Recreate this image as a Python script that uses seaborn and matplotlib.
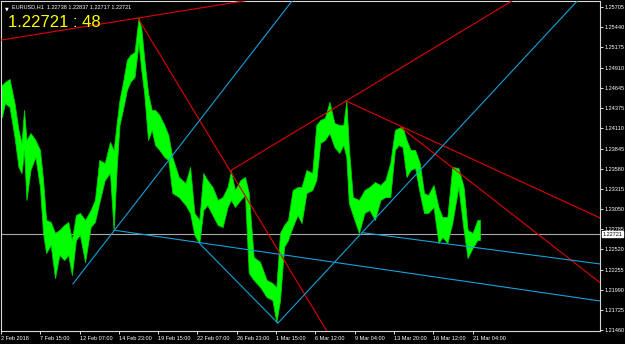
import numpy as np
import pandas as pd
import matplotlib
matplotlib.use("Agg")
import matplotlib.pyplot as plt
import matplotlib.transforms as mtransforms
from matplotlib import font_manager
import seaborn as sns

# ---------------- data ----------------
symbol = "EURUSD,H1"
ohlc_last = ["1.22738", "1.22837", "1.22717", "1.22721"]
last_price = 1.22721
countdown = "48"

# price path: start bar of each block of H1 bars, with block high / low
seg_start = [0, 3, 10, 18, 26, 31, 36, 39, 44, 52, 60, 67, 70, 77, 85, 91, 99, 107, 112, 119,
             125, 132, 142, 150, 156, 164, 174, 181, 186, 191, 195, 202, 208, 213, 222, 226, 231, 236, 243, 248,
             254, 262, 270, 275, 283, 296, 305, 311, 319, 327, 332, 340, 349, 357, 365, 373, 376, 386, 394, 401,
             406, 417, 427, 438, 446, 451, 458, 464, 471, 479, 487, 492, 503, 511, 516, 524, 531, 539, 547, 555,
             560, 565, 568, 578, 588, 596, 604, 614, 622, 630, 638, 645, 650, 658, 663, 671, 678, 686, 692, 699,
             710, 715, 723, 731, 739, 751, 756, 764, 772]
seg_end = 780
seg_high = [1.24680, 1.24719, 1.24759, 1.24443, 1.24089, 1.23918, 1.24351, 1.23957, 1.24049, 1.23957,
            1.23826, 1.23431, 1.22906, 1.22880, 1.22735, 1.22774, 1.22840, 1.22880, 1.22643, 1.22971,
            1.22998, 1.22906, 1.23037, 1.23169, 1.23694, 1.23655, 1.23931, 1.23826, 1.24181, 1.24483,
            1.24706, 1.25009, 1.25074, 1.25114, 1.25560, 1.25429, 1.25009, 1.24575, 1.24351, 1.24351,
            1.24286, 1.24154, 1.24023, 1.23734, 1.23471, 1.23392, 1.23602, 1.22998, 1.22906, 1.23523,
            1.23431, 1.23339, 1.23169, 1.23208, 1.23339, 1.23550, 1.23300, 1.23431, 1.23471, 1.23261,
            1.22420, 1.22354, 1.22117, 1.22078, 1.22025, 1.22735, 1.22840, 1.22906, 1.23300, 1.23339,
            1.23339, 1.23563, 1.23523, 1.24154, 1.24220, 1.24246, 1.24457, 1.24181, 1.24154, 1.24154,
            1.24470, 1.23865, 1.23208, 1.23169, 1.23300, 1.23339, 1.23405, 1.23366, 1.23431, 1.23655,
            1.24089, 1.24115, 1.24128, 1.23957, 1.23826, 1.23826, 1.23655, 1.23261, 1.23234, 1.23366,
            1.23077, 1.22945, 1.22945, 1.23602, 1.23589, 1.23339, 1.22774, 1.22735, 1.22906]
seg_low = [1.24259, 1.24443, 1.24391, 1.23997, 1.23602, 1.23523, 1.23826, 1.23169, 1.23563, 1.23734,
           1.23339, 1.22735, 1.22472, 1.22577, 1.22144, 1.22446, 1.22380, 1.22446, 1.22183, 1.22643,
           1.22709, 1.22354, 1.22814, 1.22880, 1.23129, 1.23431, 1.23523, 1.22774, 1.23602, 1.24154,
           1.24351, 1.24614, 1.24719, 1.24785, 1.25232, 1.24877, 1.24549, 1.23957, 1.24089, 1.23891,
           1.23826, 1.23734, 1.23694, 1.23261, 1.23208, 1.23103, 1.22998, 1.22709, 1.22603, 1.23037,
           1.23103, 1.22971, 1.22840, 1.22814, 1.23077, 1.23169, 1.23077, 1.23169, 1.23234, 1.22209,
           1.22117, 1.22025, 1.21894, 1.21854, 1.21565, 1.21854, 1.22551, 1.22643, 1.22814, 1.22971,
           1.22866, 1.23261, 1.23300, 1.23431, 1.23918, 1.23957, 1.24049, 1.23865, 1.23786, 1.23891,
           1.23734, 1.23129, 1.22971, 1.22735, 1.22998, 1.23037, 1.22906, 1.23169, 1.23208, 1.23208,
           1.23826, 1.23891, 1.23865, 1.23471, 1.23563, 1.23589, 1.23261, 1.22998, 1.22998, 1.23077,
           1.22603, 1.22682, 1.22603, 1.22866, 1.23339, 1.22774, 1.22406, 1.22538, 1.22643]

# trend lines: two anchor points (bar, price); ray = extend to the right
line_x1 = [0, 223, 373, 562, 650, 117, 186, 323, 451, 588]
line_p1 = [1.2527, 1.2556, 1.2355, 1.2447, 1.2413, 1.22065, 1.2277, 1.2260, 1.2155, 1.2274]
line_x2 = [223, 487, 562, 976, 976, 474, 976, 451, 938, 976]
line_p2 = [1.2556, 1.2203, 1.2447, 1.22932, 1.2208, 1.25784, 1.21841, 1.2155, 1.2578, 1.22328]
line_ray = [True, True, True, True, True, True, True, False, True, True]
line_kind = ["red", "red", "red", "red", "red", "cyan", "cyan", "cyan", "cyan", "cyan"]

price_ticks = [1.25705, 1.25440, 1.25175, 1.24910, 1.24645, 1.24375, 1.24110, 1.23845, 1.23580,
               1.23315, 1.23050, 1.22785, 1.22520, 1.22255, 1.21990, 1.21725, 1.21460]
time_tick_labels = ["2 Feb 2018", "7 Feb 15:00", "12 Feb 07:00", "14 Feb 23:00", "19 Feb 15:00",
                    "22 Feb 07:00", "26 Feb 23:00", "1 Mar 15:00", "6 Mar 12:00", "9 Mar 04:00",
                    "13 Mar 20:00", "16 Mar 12:00", "21 Mar 04:00"]
bars_per_label = 64

# ---------------- style ----------------
sns.set_theme(style="dark")
names = {f.name for f in font_manager.fontManager.ttflist}
small_font = "Liberation Sans Narrow" if "Liberation Sans Narrow" in names else "Liberation Sans"
small_size = 4.8 if small_font == "Liberation Sans Narrow" else 4.0
plt.rcParams["font.family"] = ["Liberation Sans", "DejaVu Sans"]

fig = plt.figure(figsize=(6.25, 3.44), dpi=100, facecolor="black")
W, H = 625, 344
ax = fig.add_axes([1 / W, 13 / H, 599 / W, 330 / H])
ax.set_facecolor("black")
for s in ax.spines.values():
    s.set_color("#d8d8d8")
    s.set_linewidth(0.8)

xmin, xmax = 0, 975.6
ymin, ymax = 1.21447, 1.25784

# current price line
ax.axhline(last_price, color="#a8a8a8", lw=0.8, zorder=1)

# price bars: band through the high/low of each block, drawn at the block centres
starts = np.array(seg_start, dtype=float)
ends = np.append(starts[1:], seg_end)
mids = np.concatenate([[starts[0]], (starts + ends) / 2, [ends[-1]]])
hi = np.concatenate([[seg_high[0]], seg_high, [seg_high[-1]]])
lo = np.concatenate([[seg_low[0]], seg_low, [seg_low[-1]]])
ax.fill_between(mids, lo, hi, color="#00ff00", lw=0.6, edgecolor="#00d000", zorder=2)

# trend lines
colors = {"red": "#e00000", "cyan": "#18a0d8"}
for i in range(len(line_x1)):
    x1, p1, x2, p2 = line_x1[i], line_p1[i], line_x2[i], line_p2[i]
    if line_ray[i]:
        slope = (p2 - p1) / (x2 - x1)
        xe = 1400.0
        pe = p1 + slope * (xe - x1)
    else:
        xe, pe = x2, p2
    df = pd.DataFrame({"bar": [x1, xe], "price": [p1, pe]})
    sns.lineplot(data=df, x="bar", y="price", ax=ax, color=colors[line_kind[i]],
                 lw=0.8, zorder=3, legend=False, estimator=None, sort=False)
ax.set_xlim(xmin, xmax)
ax.set_ylim(ymin, ymax)
ax.set_xlabel("")
ax.set_ylabel("")

# axes ticks
ax.yaxis.tick_right()
ax.set_yticks(price_ticks)
ax.set_yticklabels([f"{p:.5f}" for p in price_ticks], family=small_font)
ax.tick_params(axis="y", colors="white", labelsize=small_size, length=2, width=0.6, pad=1.5,
               right=True, left=False)
ax.set_xticks([i * bars_per_label for i in range(len(time_tick_labels))])
ax.set_xticklabels(time_tick_labels, ha="left", family=small_font)
ax.tick_params(axis="x", colors="white", labelsize=small_size, length=2.5, width=0.6, pad=1.2, bottom=True)
for lab in ax.get_xticklabels():
    lab.set_horizontalalignment("left")
ax.grid(False)

# current price box on the scale
trans = mtransforms.blended_transform_factory(ax.transAxes, ax.transData)
ax.text(1.0045, last_price, f"{last_price:.5f}", transform=trans, ha="left", va="center",
        fontsize=small_size, color="black", zorder=6, family=small_font,
        bbox=dict(boxstyle="square,pad=0.12", fc="white", ec="white"), clip_on=False)

# header texts
ax.text(0.006, 0.985, "\u25BC", transform=ax.transAxes, ha="left", va="top", fontsize=3.5,
        color="white", family="DejaVu Sans")
ax.text(0.019, 0.99, symbol + "  " + " ".join(ohlc_last), transform=ax.transAxes, ha="left", va="top",
        fontsize=small_size, color="white", family=small_font)
ax.text(0.012, 0.958, f"{last_price:.5f} : {countdown}", transform=ax.transAxes, ha="left", va="top",
        fontsize=12, color="#ffff00")

fig.savefig("out.png", dpi=100, facecolor="black")
